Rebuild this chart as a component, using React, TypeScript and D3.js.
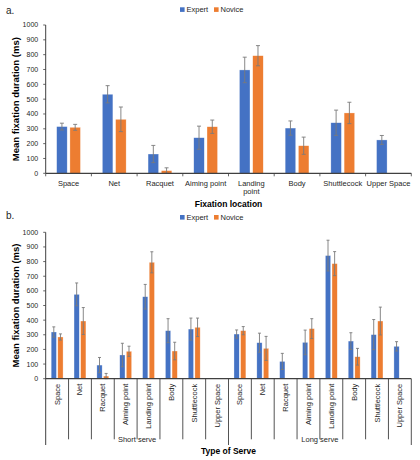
import React from "react";
import * as d3 from "d3";

const categories = ["Space", "Net", "Racquet", "Aiming point", "Landing point", "Body", "Shuttlecock", "Upper Space"];
const seriesNames = ["Expert", "Novice"];
const yTicks = [0, 100, 200, 300, 400, 500, 600, 700, 800, 900, 1000];

// Panel a: overall fixation location
const expertA = [315, 533, 130, 240, 697, 305, 341, 225];
const expertErrA = [23, 58, 58, 78, 86, 48, 85, 30];
const noviceA = [310, 364, 18, 314, 793, 186, 407, null];
const noviceErrA = [20, 83, 19, 45, 68, 58, 72, null];

// Panel b: by type of serve
const serveGroups = ["Short serve", "Long serve"];
const expertShort = [319, 576, 93, 162, 560, 328, 339, null];
const expertShortErr = [35, 78, 52, 80, 84, 82, 75, null];
const noviceShort = [285, 394, 18, 187, 795, 189, 351, null];
const noviceShortErr = [21, 92, 18, 35, 72, 60, 63, null];
const expertLong = [305, 246, 118, 248, 841, 257, 301, 221];
const expertLongErr = [28, 65, 55, 84, 105, 57, 103, 32];
const noviceLong = [328, 207, null, 342, 786, 150, 394, null];
const noviceLongErr = [28, 82, null, 68, 82, 57, 95, null];

const BLUE = "#4472C4";
const ORANGE = "#ED7D31";
const AXIS = "#404040";
const ERR = "#7a7a7a";
const FONT = "'Liberation Sans', Arial, sans-serif";
const colors = [BLUE, ORANGE];

type Item = { key: string; label: string; group?: string; vals: (number | null)[]; errs: (number | null)[] };

function Bars({ items, x, y, capW }: { items: Item[]; x: d3.ScaleBand<string>; y: d3.ScaleLinear<number, number>; capW: number }) {
  const bw = x.bandwidth();
  const barW = bw * 0.23;
  const gap = bw * 0.06;
  return (
    <g>
      {items.map((it) =>
        it.vals.map((v, s) => {
          if (v == null) return null;
          const cx = (x(it.key) as number) + bw / 2;
          const x0 = s === 0 ? cx - gap / 2 - barW : cx + gap / 2;
          const e = it.errs[s] ?? 0;
          const mid = x0 + barW / 2;
          return (
            <g key={it.key + s}>
              <rect x={x0} y={y(v)} width={barW} height={y(0) - y(v)} fill={colors[s]} stroke="#ffffff" strokeOpacity={0.6} strokeWidth={0.5} />
              <line x1={mid} x2={mid} y1={y(v + e)} y2={y(Math.max(0, v - e))} stroke={ERR} strokeWidth={0.9} />
              <line x1={mid - capW / 2} x2={mid + capW / 2} y1={y(v + e)} y2={y(v + e)} stroke={ERR} strokeWidth={0.9} />
              <line x1={mid - capW / 2} x2={mid + capW / 2} y1={y(Math.max(0, v - e))} y2={y(Math.max(0, v - e))} stroke={ERR} strokeWidth={0.9} />
            </g>
          );
        })
      )}
    </g>
  );
}

function YAxis({ y, x0 }: { y: d3.ScaleLinear<number, number>; x0: number }) {
  return (
    <g>
      {yTicks.map((t) => (
        <g key={t}>
          <line x1={x0 - 2.5} x2={x0} y1={y(t)} y2={y(t)} stroke={AXIS} strokeWidth={0.8} />
          <text x={x0 - 7.5} y={y(t)} dy="0.35em" textAnchor="end" fontSize={7} fill="#262626">{t}</text>
        </g>
      ))}
    </g>
  );
}

function Legend({ yc }: { yc: number }) {
  const xs = [180, 214];
  return (
    <g>
      {seriesNames.map((n, i) => (
        <g key={n}>
          <rect x={xs[i]} y={yc - 2.3} width={4.6} height={4.6} fill={colors[i]} />
          <text x={xs[i] + 6.5} y={yc} dy="0.35em" fontSize={7.5} fill="#262626">{n}</text>
        </g>
      ))}
    </g>
  );
}

export default function App() {
  const left = 45.7;
  const right = 411.3;

  // Panel a
  const yA = d3.scaleLinear().domain([0, 1000]).range([173.3, 25]);
  const xA = d3.scaleBand<string>().domain(categories).range([left, right]).padding(0);
  const itemsA: Item[] = categories.map((c, i) => ({ key: c, label: c, vals: [expertA[i], noviceA[i]], errs: [expertErrA[i], noviceErrA[i]] }));

  // Panel b
  const yB = d3.scaleLinear().domain([0, 1000]).range([378.7, 232.3]);
  const keysB = serveGroups.flatMap((g) => categories.map((c) => g + "|" + c));
  const xB = d3.scaleBand<string>().domain(keysB).range([left, right]).padding(0);
  const dataB = [
    { v: [expertShort, noviceShort], e: [expertShortErr, noviceShortErr] },
    { v: [expertLong, noviceLong], e: [expertLongErr, noviceLongErr] },
  ];
  const itemsB: Item[] = serveGroups.flatMap((g, gi) =>
    categories.map((c, i) => ({
      key: g + "|" + c,
      label: c,
      group: g,
      vals: [dataB[gi].v[0][i], dataB[gi].v[1][i]],
      errs: [dataB[gi].e[0][i], dataB[gi].e[1][i]],
    }))
  );
  const bwB = xB.bandwidth();
  const groupW = bwB * categories.length;

  return (
    <svg width={420} height={460} style={{ position: "absolute", left: 0, top: 0, background: "#fff" }} fontFamily={FONT}>
      <rect width={420} height={460} fill="#fff" />
      {/* Panel a */}
      <text x={6} y={13.5} fontSize={10} fill="#262626">a.</text>
      <Legend yc={9.6} />
      <YAxis y={yA} x0={left} />
      <Bars items={itemsA} x={xA} y={yA} capW={4} />
      <line x1={left} x2={left} y1={yA(1000)} y2={yA(0)} stroke={AXIS} strokeWidth={1} />
      <line x1={left} x2={right} y1={yA(0)} y2={yA(0)} stroke={AXIS} strokeWidth={1.2} />
      {categories.concat(["__end"]).map((c, i) => {
        const xx = left + i * xA.bandwidth();
        return <line key={"ta" + i} x1={xx} x2={xx} y1={yA(0)} y2={yA(0) + 3} stroke={AXIS} strokeWidth={0.8} />;
      })}
      {itemsA.map((it) => {
        const cx = (xA(it.key) as number) + xA.bandwidth() / 2;
        const parts = it.label === "Landing point" ? ["Landing", "point"] : [it.label];
        return (
          <text key={"la" + it.key} x={cx} y={185.5} textAnchor="middle" fontSize={7.5} fill="#262626">
            {parts.map((p, k) => (
              <tspan key={k} x={cx} dy={k === 0 ? 0 : 8.7}>{p}</tspan>
            ))}
          </text>
        );
      })}
      <text x={(left + right) / 2} y={206.5} textAnchor="middle" fontSize={8.5} fontWeight="bold" fill="#000">Fixation location</text>
      <text transform={`translate(15.5,${(yA(0) + yA(1000)) / 2}) rotate(-90)`} textAnchor="middle" dominantBaseline="central" fontSize={9.5} fontWeight="bold" fill="#000">Mean fixation duration (ms)</text>

      {/* Panel b */}
      <text x={6} y={218.5} fontSize={10} fill="#262626">b.</text>
      <Legend yc={217.3} />
      <YAxis y={yB} x0={left} />
      <Bars items={itemsB} x={xB} y={yB} capW={3} />
      <line x1={left} x2={left} y1={yB(1000)} y2={445} stroke={AXIS} strokeWidth={1} />
      <line x1={left} x2={right} y1={yB(0)} y2={yB(0)} stroke={AXIS} strokeWidth={1.2} />
      {keysB.map((k, i) => {
        if (i === 0) return null;
        const xx = left + i * bwB;
        const isGroup = i % categories.length === 0;
        return <line key={"tb" + i} x1={xx} x2={xx} y1={yB(0)} y2={isGroup ? 445 : 439.3} stroke={AXIS} strokeWidth={0.9} />;
      })}
      <line x1={right} x2={right} y1={yB(0)} y2={445} stroke={AXIS} strokeWidth={0.9} />
      {itemsB.map((it) => {
        const cx = (xB(it.key) as number) + bwB / 2;
        return (
          <text key={"lb" + it.key} transform={`translate(${cx},${yB(0) + 5}) rotate(-90)`} textAnchor="end" dominantBaseline="central" fontSize={7.5} fill="#262626">{it.label}</text>
        );
      })}
      {serveGroups.map((g, gi) => (
        <text key={g} x={left + gi * groupW + groupW / 2} y={439.3} dy="0.35em" textAnchor="middle" fontSize={7.5} fill="#262626">{g}</text>
      ))}
      <text x={(left + right) / 2} y={454} textAnchor="middle" fontSize={8.5} fontWeight="bold" fill="#000">Type of Serve</text>
      <text transform={`translate(15.5,${(yB(0) + yB(1000)) / 2}) rotate(-90)`} textAnchor="middle" dominantBaseline="central" fontSize={9.5} fontWeight="bold" fill="#000">Mean fixation duration (ms)</text>
    </svg>
  );
}
